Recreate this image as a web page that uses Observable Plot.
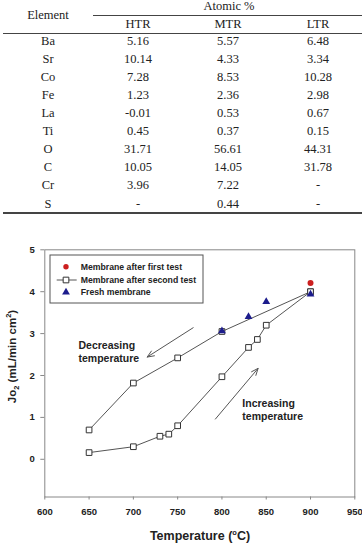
<!DOCTYPE html>
<html><head><meta charset="utf-8">
<script src="https://cdn.jsdelivr.net/npm/d3@7"></script>
<script src="https://cdn.jsdelivr.net/npm/@observablehq/plot@0.6"></script>
<style>
body{margin:0;background:#fff;width:362px;height:545px;position:relative;overflow:hidden;font-family:"Liberation Sans",Arial,sans-serif}
#table{position:absolute;left:0;top:0;width:362px;height:230px;font-family:"Liberation Serif","Times New Roman",serif;font-size:12.5px;color:#222}
.c{position:absolute;transform:translate(-50%,-50%);white-space:nowrap;line-height:1}
.hl{position:absolute;height:0;border-top:1px solid #333}
#chart{position:absolute;left:0;top:240px}
</style>
</head><body>
<div id="table"></div>
<div id="chart"></div>
<script>
// ---- table data ----
const elements = ["Ba","Sr","Co","Fe","La","Ti","O","C","Cr","S"];
const htr = ["5.16","10.14","7.28","1.23","-0.01","0.45","31.71","10.05","3.96","-"];
const mtr = ["5.57","4.33","8.53","2.36","0.53","0.37","56.61","14.05","7.22","0.44"];
const ltr = ["6.48","3.34","10.28","2.98","0.67","0.15","44.31","31.78","-","-"];
const columns = ["HTR","MTR","LTR"];

// ---- chart data ----
const xTicks = [600,650,700,750,800,850,900,950];
const yTicks = [0,1,2,3,4,5];
const decTemp = [900,800,750,700,650];
const decFlux = [4.00,3.05,2.42,1.82,0.70];
const incTemp = [650,700,730,740,750,800,830,840,850,900];
const incFlux = [0.16,0.30,0.55,0.60,0.80,1.97,2.67,2.86,3.20,4.00];
const freshTemp = [800,830,850,900];
const freshFlux = [3.06,3.40,3.76,3.94];
const firstTemp = [900];
const firstFlux = [4.21];
const legendLabels = ["Membrane after first test","Membrane after second test","Fresh membrane"];
const arrowLabels = ["Decreasing\ntemperature","Increasing\ntemperature"];
const arrowFrom = [[767.5,3.14],[792.6,0.96]];
const arrowTo = [[715.6,2.44],[840.8,2.17]];
const labelPos = [[638,2.57],[823,1.20]];

// ---- table ----
const T = document.getElementById("table");
function cell(txt,x,y){const d=document.createElement("div");d.className="c";d.textContent=txt;d.style.left=x+"px";d.style.top=y+"px";T.appendChild(d);}
function hline(x1,x2,y,w){const d=document.createElement("div");d.className="hl";d.style.left=x1+"px";d.style.width=(x2-x1)+"px";d.style.top=y+"px";if(w)d.style.borderTopWidth=w+"px";d.style.borderColor="#444";T.appendChild(d);}
const colX=[138,228,318];
cell("Atomic %",229,6);
cell("Element",48,15);
columns.forEach((c,i)=>cell(c,colX[i],24));
hline(93,362,15);
hline(3,362,33);
elements.forEach((e,i)=>{
  const y=41+i*18.06;
  cell(e,48,y);
  cell(htr[i],colX[0],y);
  cell(mtr[i],colX[1],y);
  cell(ltr[i],colX[2],y);
});
hline(3,362,212,2);

// ---- chart ----
const dec = decTemp.map((t,i)=>({t,f:decFlux[i]}));
const inc = incTemp.map((t,i)=>({t,f:incFlux[i]}));
const fresh = freshTemp.map((t,i)=>({t,f:freshFlux[i]}));
const first = firstTemp.map((t,i)=>({t,f:firstFlux[i]}));
const arrows = arrowFrom.map((a,i)=>({x1:a[0],y1:a[1],x2:arrowTo[i][0],y2:arrowTo[i][1]}));
const labels = arrowLabels.map((s,i)=>({s,x:labelPos[i][0],y:labelPos[i][1]}));

const svg = Plot.plot({
  width:362, height:305,
  marginTop:9.3, marginLeft:44.3, marginRight:7.7, marginBottom:48.5,
  x:{domain:[600,950]},
  y:{domain:[-0.9,5]},
  style:{fontFamily:"'Liberation Sans',Arial,sans-serif",fontSize:"9.5px",color:"#222",background:"#fff"},
  marks:[
    Plot.frame({stroke:"#888"}),
    Plot.axisX({ticks:xTicks,tickSize:3,tickPadding:8,stroke:"#888",fill:"#222",fontWeight:"bold",label:null,tickFormat:d=>String(d)}),
    Plot.axisY({ticks:yTicks,tickSize:4,tickPadding:6,stroke:"#888",fill:"#222",fontWeight:"bold",label:null,tickFormat:d=>String(d)}),
    Plot.line(dec,{x:"t",y:"f",stroke:"#555",strokeWidth:1}),
    Plot.line(inc,{x:"t",y:"f",stroke:"#555",strokeWidth:1}),
    Plot.dot(dec,{x:"t",y:"f",symbol:"square",r:3.2,fill:"#fff",stroke:"#333",strokeWidth:1}),
    Plot.dot(inc,{x:"t",y:"f",symbol:"square",r:3.2,fill:"#fff",stroke:"#333",strokeWidth:1}),
    Plot.dot(fresh,{x:"t",y:"f",symbol:"triangle",r:2.9,fill:"#1c1c8c",stroke:null}),
    Plot.dot(first,{x:"t",y:"f",symbol:"circle",r:3,fill:"#cc1f1f",stroke:null}),
    Plot.arrow(arrows,{x1:"x1",y1:"y1",x2:"x2",y2:"y2",stroke:"#555",strokeWidth:1,headLength:11,headAngle:45}),
    Plot.text(labels,{x:"x",y:"y",text:"s",textAnchor:"start",lineAnchor:"middle",fontSize:10.5,fontWeight:"bold",lineHeight:1.25,fill:"#222"})
  ]
});
document.getElementById("chart").appendChild(svg);

const s = d3.select(svg);
// axis titles
const xt = s.append("text").attr("x",200).attr("y",299.5).attr("text-anchor","middle")
  .attr("font-size","12.5px").attr("font-weight","bold").attr("fill","#222");
xt.append("tspan").text("Temperature (");
xt.append("tspan").text("o").attr("font-size","7.5px").attr("dy","-5");
xt.append("tspan").text("C)").attr("dy","5");

const yt = s.append("text").attr("transform","translate(16,116.5) rotate(-90)").attr("text-anchor","middle")
  .attr("font-size","11.5px").attr("font-weight","bold").attr("fill","#222");
yt.append("tspan").text("Jo");
yt.append("tspan").text("2").attr("font-size","7.5px").attr("dy","3");
yt.append("tspan").text(" (mL/min cm").attr("dy","-3");
yt.append("tspan").text("2").attr("font-size","7.5px").attr("dy","-5");
yt.append("tspan").text(")").attr("dy","5");

// legend (inside plot area)
const lg = s.append("g").attr("transform","translate(50,15)");
lg.append("rect").attr("x",0).attr("y",0).attr("width",153).attr("height",48).attr("fill","#fff").attr("stroke","#555").attr("stroke-width",1);
const rowsY=[11.7,25,37.3];
lg.append("path").attr("d",d3.symbol(d3.symbolCircle,Math.PI*2.7*2.7)()).attr("transform",`translate(16,${rowsY[0]})`).attr("fill","#cc1f1f");
lg.append("line").attr("x1",6.7).attr("x2",26.7).attr("y1",rowsY[1]).attr("y2",rowsY[1]).attr("stroke","#555");
lg.append("path").attr("d",d3.symbol(d3.symbolSquare,Math.PI*3.2*3.2)()).attr("transform",`translate(16,${rowsY[1]})`).attr("fill","#fff").attr("stroke","#333");
lg.append("path").attr("d",d3.symbol(d3.symbolTriangle,Math.PI*2.9*2.9)()).attr("transform",`translate(16,${rowsY[2]})`).attr("fill","#1c1c8c");
legendLabels.forEach((t,i)=>{
  lg.append("text").attr("x",30.7).attr("y",rowsY[i]).attr("dy","0.35em").attr("text-anchor","start").attr("font-size","8.7px").attr("font-weight","bold").attr("fill","#222").text(t);
});
</script>
</body></html>
